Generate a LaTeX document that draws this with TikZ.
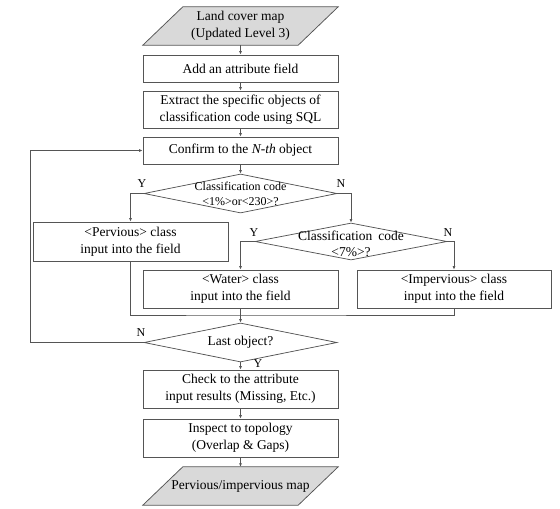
\documentclass[tikz,border=0pt]{standalone}
\usepackage{fontspec}
\setmainfont{Liberation Serif}
\usetikzlibrary{arrows.meta,shapes.geometric,calc,backgrounds}
\definecolor{lncol}{HTML}{555555}
\definecolor{pfill}{HTML}{D9D9D9}
\begin{document}
\begin{tikzpicture}[x=1pt,y=-1pt,
  box/.style={draw=lncol,line width=0.75pt,rectangle,minimum width=195pt,inner sep=0pt,align=center,font=\fontsize{13.5}{17}\selectfont,text=black},
  ghost/.style={rectangle,minimum width=195pt,inner sep=0pt,align=center,font=\fontsize{13.5}{17}\selectfont,text=black},
  dia/.style={draw=lncol,line width=0.75pt,diamond,inner sep=0pt,minimum width=193pt},
  arr/.style={draw=lncol,line width=0.75pt,-{Latex[length=3.5pt,width=3pt]}},
  lnst/.style={draw=lncol,line width=0.75pt},
  lab/.style={font=\fontsize{12}{14}\selectfont,inner sep=0pt,text=black},
  para/.style={fill=pfill,draw=lncol,line width=0.75pt}]
\useasboundingbox (0,0) rectangle (560,509);
% main column
\node[ghost,minimum height=38pt] (p1) at (240.5,26) {Land cover map\\(Updated Level 3)};
\node[box,minimum height=27pt] (add) at (240.5,68.5) {Add an attribute field};
\node[box,minimum height=37pt] (ext) at (240.5,109.5) {Extract the specific objects of\\classification code using SQL};
\node[box,minimum height=27pt] (conf) at (240.5,150.5) {Confirm to the \textit{N-th} object};
\node[dia,minimum height=39pt] (d1) at (240.5,193.5) {};
\node[lab,align=center,font=\fontsize{12}{14.5}\selectfont] (d1t) at (240.5,194) {Classification code\\<1\%>or<230>?};
\node[box,minimum height=39pt] (perv) at (130.5,241.5) {<Pervious> class\\input into the field};
\node[dia,minimum width=192pt,minimum height=37pt] (d2) at (351,241.5) {};
\node[lab,align=center,font=\fontsize{13.5}{16}\selectfont] (d2t) at (351,244) {Classification\hspace{2.5pt} code\\<7\%>?};
\node[box,minimum height=38pt] (water) at (240.5,289) {<Water> class\\input into the field};
\node[box,minimum width=194pt,minimum height=38pt] (imp) at (454,289) {<Impervious> class\\input into the field};
\coordinate (m) at (240.5,315);
\node[dia,minimum height=39pt] (d3) at (240.5,342.5) {};
\node[lab,font=\fontsize{13.5}{16}\selectfont] (d3t) at (240.5,342.5) {Last object?};
\coordinate (lp) at (30,342.5);
\node[box,minimum height=38pt] (check) at (240.5,389) {Check to the attribute\\input results (Missing, Etc.)};
\node[box,minimum height=38pt] (insp) at (240.5,438) {Inspect to topology\\(Overlap \& Gaps)};
\node[ghost,minimum height=38pt] (p2) at (240.5,486) {Pervious/impervious map};
% parallelograms
\begin{scope}[on background layer]
\path[para] (p1.south west) -- ($(p1.north west)+(40,0)$) -- (p1.north east) -- ($(p1.south east)+(-40,0)$) -- cycle;
\path[para] (p2.south west) -- ($(p2.north west)+(40,0)$) -- (p2.north east) -- ($(p2.south east)+(-40,0)$) -- cycle;
\end{scope}
% connectors
\draw[arr] (p1.south) -- (add.north);
\draw[arr] (add.south) -- (ext.north);
\draw[arr] (ext.south) -- (conf.north);
\draw[arr] (conf.south) -- (d1.north);
\draw[arr] (d1.west) -| (perv.north);
\draw[arr] (d1.east) -| (d2.north);
\draw[arr] (d2.west) -| (water.north);
\draw[arr] (d2.east) -| (imp.north);
\draw[lnst] (perv.south) |- (m) -| (imp.south);
\draw[lnst] (water.south) -- (m);
\draw[arr] (m) -- (d3.north);
\draw[arr] (d3.west) -- (lp) |- (conf.west);
\draw[arr] (d3.south) -- (check.north);
\draw[arr] (check.south) -- (insp.north);
\draw[arr] (insp.south) -- (p2.north);
% labels
\node[lab] (y1) at (142,184) {Y};
\node[lab] (n1) at (341,184) {N};
\node[lab] (y2) at (254,233) {Y};
\node[lab] (n2) at (448,233) {N};
\node[lab] (n3) at (141,333) {N};
\node[lab] (y3) at (258,364) {Y};
\end{tikzpicture}
\end{document}
